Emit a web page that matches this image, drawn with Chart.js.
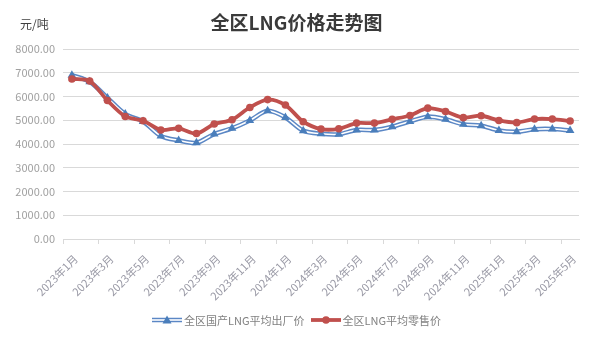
<!DOCTYPE html>
<html>
<head>
<meta charset="utf-8">
<script src="https://cdn.jsdelivr.net/npm/chart.js@4.4.1/dist/chart.umd.min.js"></script>
<style>
  html, body { margin: 0; padding: 0; background: #fff; }
  #wrap {
    position: relative;
    width: 593px;
    height: 341px;
    font-family: "Noto Sans CJK SC", "Noto Sans", sans-serif;
  }
  #price-chart { position: absolute; left: 0; top: 0; }
  .chart-title {
    position: absolute; left: 0; right: 0; top: 8px;
    text-align: center; font-size: 19px; font-weight: bold; color: #3a3a3a;
  }
  .unit {
    position: absolute; left: 20px; top: 15px;
    font-size: 12px; color: #404040;
  }
  .legend {
    position: absolute; left: 0; right: 0; top: 312px;
    display: flex; justify-content: center; align-items: center;
    font-size: 11px; color: #808080;
  }
  .legend .item { display: flex; align-items: center; margin: 0 2px; }
  .legend svg { margin-right: 2px; }
</style>
</head>
<body>
<div id="wrap">
  <canvas id="price-chart" width="593" height="341"></canvas>
  <div class="chart-title">全区LNG价格走势图</div>
  <div class="unit">元/吨</div>
  <div class="legend">
    <div class="item">
      <svg width="30" height="12" viewBox="0 0 30 12">
        <line x1="0" y1="6" x2="30" y2="6" stroke="#5b87c5" stroke-width="4.5"/>
        <line x1="0" y1="6" x2="30" y2="6" stroke="#fff" stroke-width="1.6"/>
        <polygon points="15,1.5 19.5,9.5 10.5,9.5" fill="#4a7ebb"/>
      </svg>
      <span>全区国产LNG平均出厂价</span>
    </div>
    <div class="item" style="margin-left:4px">
      <svg width="30" height="12" viewBox="0 0 30 12">
        <line x1="0" y1="6" x2="30" y2="6" stroke="#c0504d" stroke-width="3.8"/>
        <circle cx="15" cy="6" r="3.8" fill="#c0504d"/>
      </svg>
      <span>全区LNG平均零售价</span>
    </div>
  </div>
</div>

<script>
const months = [
  '2023年1月', '2023年2月', '2023年3月', '2023年4月', '2023年5月', '2023年6月',
  '2023年7月', '2023年8月', '2023年9月', '2023年10月', '2023年11月', '2023年12月',
  '2024年1月', '2024年2月', '2024年3月', '2024年4月', '2024年5月', '2024年6月',
  '2024年7月', '2024年8月', '2024年9月', '2024年10月', '2024年11月', '2024年12月',
  '2025年1月', '2025年2月', '2025年3月', '2025年4月', '2025年5月',
];

// 国产LNG平均出厂价 (元/吨)
const factoryPrice = [
  6900, 6620, 5940, 5260, 4950, 4340, 4150, 4050, 4420, 4660, 4990, 5400,
  5120, 4560, 4430, 4410, 4590, 4590, 4730, 4950, 5150, 5040, 4830, 4770,
  4570, 4520, 4620, 4630, 4570,
];

// LNG平均零售价 (元/吨)
const retailPrice = [
  6740, 6650, 5830, 5160, 4980, 4590, 4660, 4440, 4840, 5020, 5540, 5870,
  5640, 4940, 4630, 4640, 4880, 4880, 5040, 5200, 5510, 5370, 5110, 5190,
  4990, 4900, 5050, 5050, 4970,
];

const yTicks = [0, 1000, 2000, 3000, 4000, 5000, 6000, 7000, 8000];

const BLUE = '#4a7ebb';
const BLUE_EDGE = '#5b87c5';
const RED = '#c0504d';
const GRID = '#d9d9d9';
const TICK_FONT = { family: '"Noto Sans CJK SC", "Noto Sans", sans-serif', size: 11 };
const SMOOTH = 0.3;

new Chart(document.getElementById('price-chart'), {
  type: 'line',
  data: {
    labels: months,
    datasets: [
      {
        // retail price on top
        data: retailPrice,
        borderColor: RED,
        backgroundColor: RED,
        borderWidth: 3.8,
        pointRadius: 3.8,
        pointStyle: 'circle',
        pointBorderWidth: 0,
        tension: SMOOTH,
        order: 0,
      },
      {
        // triangle markers of the factory price
        data: factoryPrice,
        showLine: false,
        borderColor: BLUE,
        backgroundColor: BLUE,
        pointStyle: 'triangle',
        pointRadius: 5,
        pointBorderWidth: 0,
        order: 1,
      },
      {
        // white core of the double line
        data: factoryPrice,
        borderColor: '#ffffff',
        borderWidth: 1.6,
        pointRadius: 0,
        tension: SMOOTH,
        order: 2,
      },
      {
        // outer blue of the double line
        data: factoryPrice,
        borderColor: BLUE_EDGE,
        borderWidth: 4.6,
        pointRadius: 0,
        tension: SMOOTH,
        order: 3,
      },
    ],
  },
  options: {
    responsive: false,
    animation: false,
    events: [],
    layout: { padding: { left: 6, right: 14, top: 49, bottom: 40 } },
    plugins: {
      legend: { display: false },
      title: { display: false },
      tooltip: { enabled: false },
    },
    scales: {
      x: {
        offset: true,
        grid: {
          offset: true,
          drawOnChartArea: false,
          tickLength: 5,
          color: (ctx) => (ctx.index % 2 === 0 ? GRID : 'rgba(0,0,0,0)'),
        },
        border: { color: GRID },
        ticks: {
          autoSkip: false,
          minRotation: 45,
          maxRotation: 45,
          padding: 8,
          labelOffset: 4,
          color: '#9a9aa6',
          font: TICK_FONT,
          callback: (v, i) => (i % 2 === 0 ? months[i] : ''),
        },
        afterFit: (scale) => { scale.height = 62; },
      },
      y: {
        min: 0,
        max: 8000,
        grid: { color: GRID, drawTicks: false },
        border: { display: false },
        afterBuildTicks: (scale) => {
          scale.ticks = yTicks.map((value) => ({ value }));
        },
        afterFit: (scale) => { scale.width = 57; },
        ticks: {
          padding: 8,
          color: '#a0a0a0',
          font: TICK_FONT,
          callback: (v) => Number(v).toFixed(2),
        },
      },
    },
  },
});
</script>
</body>
</html>
